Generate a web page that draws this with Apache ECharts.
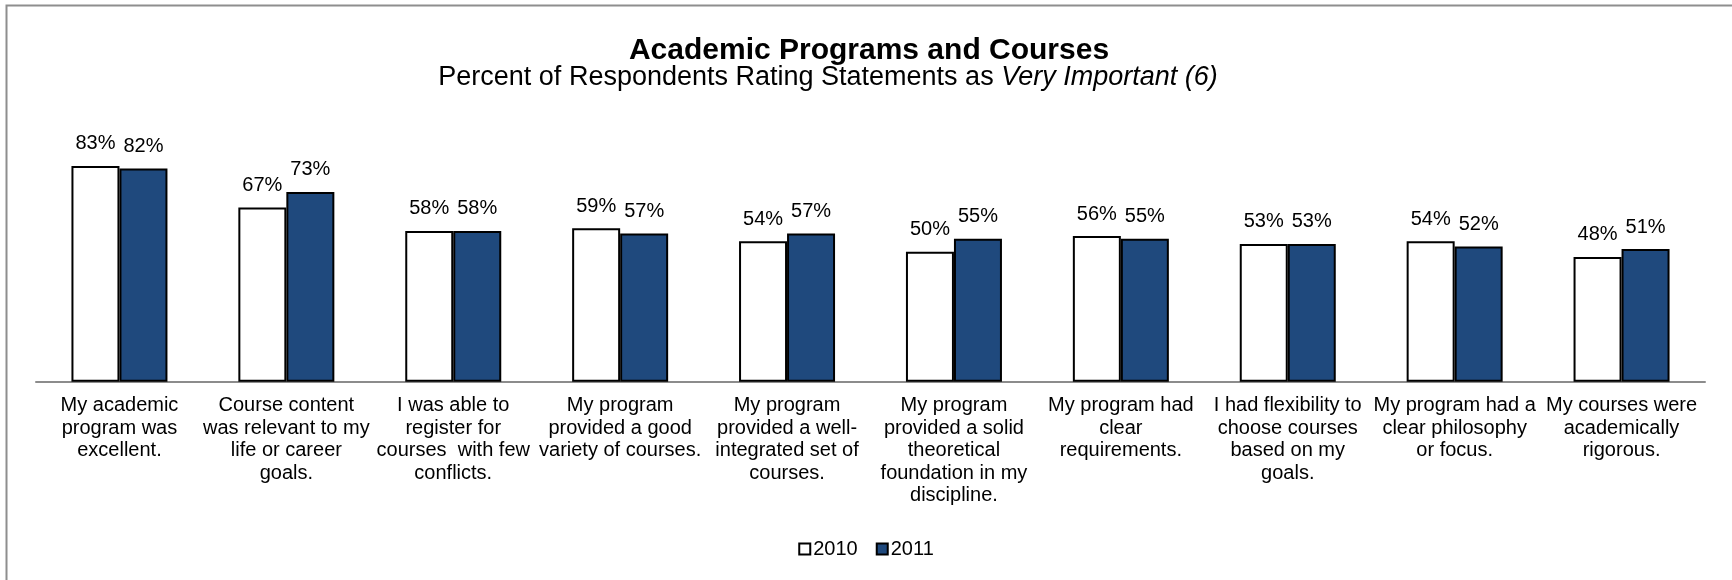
<!DOCTYPE html>
<html>
<head>
<meta charset="utf-8">
<script src="https://cdn.jsdelivr.net/npm/echarts@6/dist/echarts.min.js"></script>
<style>
  html, body { margin: 0; padding: 0; background: #ffffff; }
  #chart { width: 1732px; height: 580px; }
</style>
</head>
<body>
<div id="chart"></div>
<script>
// Survey statements (x axis categories)
var categories = [
  'My academic\nprogram was\nexcellent.',
  'Course content\nwas relevant to my\nlife or career\ngoals.',
  'I was able to\nregister for\ncourses  with few\nconflicts.',
  'My program\nprovided a good\nvariety of courses.',
  'My program\nprovided a well-\nintegrated set of\ncourses.',
  'My program\nprovided a solid\ntheoretical\nfoundation in my\ndiscipline.',
  'My program had\nclear\nrequirements.',
  'I had flexibility to\nchoose courses\nbased on my\ngoals.',
  'My program had a\nclear philosophy\nor focus.',
  'My courses were\nacademically\nrigorous.'
];

// Percent rating each statement "Very Important (6)"
var values2010 = [83, 67, 58, 59, 54, 50, 56, 53, 54, 48];
var values2011 = [82, 73, 58, 57, 57, 55, 55, 53, 52, 51];

var seriesNames = ['2010', '2011'];

var FONT = "'Liberation Sans', Arial, sans-serif";

var chart = echarts.init(document.getElementById('chart'), null, { renderer: 'canvas' });

function barSeries(name, data, fill) {
  return {
    name: name,
    type: 'bar',
    data: data,
    barWidth: 48,
    barGap: '0%',
    itemStyle: { color: fill, borderColor: '#000000', borderWidth: 2 },
    label: {
      show: true,
      position: 'top',
      distance: 12,
      formatter: '{c}%',
      color: '#000000',
      fontFamily: FONT,
      fontSize: 20
    },
    emphasis: { disabled: true }
  };
}

chart.setOption({
  animation: false,
  backgroundColor: '#ffffff',
  title: [
    {
      text: 'Academic Programs and Courses',
      left: 864,
      textAlign: 'center',
      top: 31,
      textStyle: { fontFamily: FONT, fontSize: 30, fontWeight: 'bold', color: '#000000' }
    },
    {
      text: '{n|Percent of Respondents Rating Statements as }{i|Very Important (6)}',
      left: 823,
      textAlign: 'center',
      top: 59,
      textStyle: {
        fontWeight: 'normal',
        rich: {
          n: { fontFamily: FONT, fontSize: 27, fontWeight: 'normal', color: '#000000' },
          i: { fontFamily: FONT, fontSize: 27, fontWeight: 'normal', fontStyle: 'italic', color: '#000000' }
        }
      }
    }
  ],
  legend: {
    data: seriesNames,
    left: 'center',
    top: 534,
    icon: 'rect',
    itemWidth: 11,
    itemHeight: 11,
    itemGap: 18,
    textStyle: { fontFamily: FONT, fontSize: 20, color: '#000000', padding: [0, 0, 0, -2] }
  },
  grid: { left: 36, right: 27, top: 121.7, bottom: 198.3, containLabel: false },
  xAxis: {
    type: 'category',
    data: categories,
    axisLine: { show: true, lineStyle: { color: '#8c8c8c', width: 2 } },
    axisTick: { show: false },
    axisLabel: {
      interval: 0,
      margin: 13,
      fontFamily: FONT,
      fontSize: 20,
      lineHeight: 22.5,
      color: '#000000',
      align: 'center'
    }
  },
  yAxis: {
    type: 'value',
    min: 0,
    max: 100,
    show: false,
    splitLine: { show: false }
  },
  series: [
    barSeries(seriesNames[0], values2010, '#ffffff'),
    barSeries(seriesNames[1], values2011, '#1f497d')
  ],
  graphic: [
    {
      type: 'polyline',
      silent: true,
      shape: { points: [[6.5, 580], [6.5, 5.5], [1732, 5.5]] },
      style: { stroke: '#8e8e8e', lineWidth: 2, fill: null }
    }
  ]
});
</script>
</body>
</html>
